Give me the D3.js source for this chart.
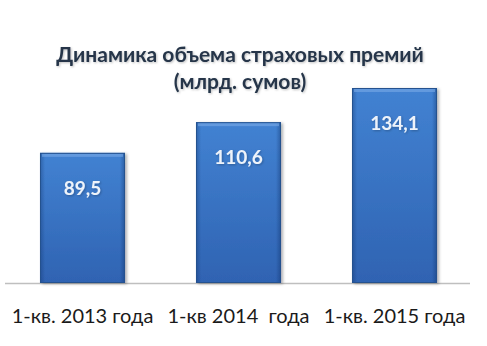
<!DOCTYPE html>
<html>
<head>
<meta charset="utf-8">
<script src="https://cdn.jsdelivr.net/npm/d3@7"></script>
<style>
  body { margin: 0; background: #fff; }
  svg { display: block; }
</style>
</head>
<body>
<svg id="chart"></svg>
<script>
const categories = ["1-кв. 2013 года", "1-кв 2014  года", "1-кв. 2015 года"];
const values = [89.5, 110.6, 134.1];
const valueLabels = ["89,5", "110,6", "134,1"];
const titleLines = ["Динамика объема страховых премий", "(млрд. сумов)"];

const width = 487, height = 346;
const svg = d3.select("#chart").attr("width", width).attr("height", height);

const x = d3.scaleBand().domain(categories).range([4.5, 472.5])
  .paddingInner(0.455).paddingOuter(0.2275);
const y = d3.scaleLinear().domain([0, 134.1]).range([283, 88]);

const defs = svg.append("defs");
const gv = defs.append("linearGradient").attr("id", "barFill")
  .attr("x1", 0).attr("y1", 0).attr("x2", 0).attr("y2", 1);
gv.append("stop").attr("offset", "0%").attr("stop-color", "#4282d2");
gv.append("stop").attr("offset", "100%").attr("stop-color", "#2f63b2");

const gh = defs.append("linearGradient").attr("id", "barSides")
  .attr("x1", 0).attr("y1", 0).attr("x2", 1).attr("y2", 0);
gh.append("stop").attr("offset", "0%").attr("stop-color", "#0a2a60").attr("stop-opacity", 0.35);
gh.append("stop").attr("offset", "6%").attr("stop-color", "#0a2a60").attr("stop-opacity", 0);
gh.append("stop").attr("offset", "94%").attr("stop-color", "#0a2a60").attr("stop-opacity", 0);
gh.append("stop").attr("offset", "100%").attr("stop-color", "#0a2a60").attr("stop-opacity", 0.4);

const shadow = defs.append("filter").attr("id", "tshadow")
  .attr("x", "-10%").attr("y", "-30%").attr("width", "120%").attr("height", "160%");
shadow.append("feDropShadow").attr("dx", 1).attr("dy", 1).attr("stdDeviation", 1)
  .attr("flood-color", "#000").attr("flood-opacity", 0.25);

const barShadow = defs.append("filter").attr("id", "bshadow")
  .attr("x", "-10%").attr("y", "-10%").attr("width", "130%").attr("height", "120%");
barShadow.append("feDropShadow").attr("dx", 2).attr("dy", 1).attr("stdDeviation", 1.5)
  .attr("flood-color", "#000").attr("flood-opacity", 0.3);

// axis line
svg.append("line")
  .attr("x1", 5).attr("x2", 470).attr("y1", y(0) + 0.5).attr("y2", y(0) + 0.5)
  .attr("stroke", "#bfbfbf").attr("stroke-width", 1.5);

const bars = svg.append("g");
bars.selectAll("rect.bar")
  .data(values)
  .join("rect")
  .attr("class", "bar")
  .attr("x", (d, i) => x(categories[i]))
  .attr("y", d => y(d))
  .attr("width", x.bandwidth())
  .attr("height", d => y(0) - y(d))
  .attr("fill", "url(#barFill)")
  .attr("filter", "url(#bshadow)");

bars.selectAll("rect.sides")
  .data(values)
  .join("rect")
  .attr("class", "sides")
  .attr("x", (d, i) => x(categories[i]))
  .attr("y", d => y(d))
  .attr("width", x.bandwidth())
  .attr("height", d => y(0) - y(d))
  .attr("fill", "url(#barSides)");

// top bevel highlight
bars.selectAll("rect.bevel")
  .data(values)
  .join("rect")
  .attr("class", "bevel")
  .attr("x", (d, i) => x(categories[i]) + 2)
  .attr("y", d => y(d))
  .attr("width", x.bandwidth() - 4)
  .attr("height", 4)
  .attr("fill", "#7aaae6").attr("opacity", 0.6);

bars.selectAll("rect.edge")
  .data(values)
  .join("rect")
  .attr("class", "edge")
  .attr("x", (d, i) => x(categories[i]) + 0.5)
  .attr("y", d => y(d) + 0.5)
  .attr("width", x.bandwidth() - 1)
  .attr("height", d => y(0) - y(d) - 1)
  .attr("fill", "none")
  .attr("stroke", "#25528f").attr("stroke-width", 1);

svg.append("g").selectAll("text")
  .data(values)
  .join("text")
  .attr("x", (d, i) => x(categories[i]) + x.bandwidth() / 2)
  .attr("y", d => y(d) + 42)
  .attr("text-anchor", "middle")
  .attr("font-family", "Lato, 'Open Sans', sans-serif")
  .attr("font-weight", "bold")
  .attr("font-size", 19)
  .attr("fill", "#eef3fa")
  .attr("filter", "url(#tshadow)")
  .text((d, i) => valueLabels[i]);

svg.append("g").selectAll("text")
  .data(categories)
  .join("text")
  .attr("x", d => x(d) + x.bandwidth() / 2)
  .attr("y", 323)
  .attr("text-anchor", "middle")
  .attr("font-family", "Lato, 'Open Sans', sans-serif")
  .attr("font-size", 20)
  .attr("fill", "#1a1a1a")
  .attr("xml:space", "preserve")
  .style("white-space", "pre")
  .text(d => d);

svg.append("g").selectAll("text")
  .data(titleLines)
  .join("text")
  .attr("x", 240)
  .attr("y", (d, i) => 62 + i * 27)
  .attr("text-anchor", "middle")
  .attr("font-family", "Lato, 'Open Sans', sans-serif")
  .attr("font-weight", "bold")
  .attr("font-size", 21)
  .attr("fill", "#26364a")
  .attr("filter", "url(#tshadow)")
  .text(d => d);
</script>
</body>
</html>
